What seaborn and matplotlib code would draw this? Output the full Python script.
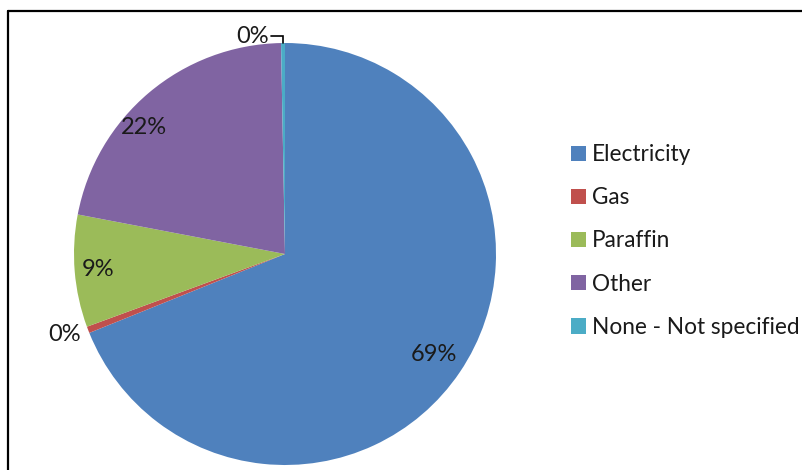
import numpy as np
import matplotlib
matplotlib.use("Agg")
import matplotlib.pyplot as plt
from matplotlib.lines import Line2D
from matplotlib.patches import Patch
import seaborn as sns

sns.set_theme(style="white")
plt.rcParams["font.family"] = ["Lato", "DejaVu Sans"]

# Household energy source shares (percent)
categories = ["Electricity", "Gas", "Paraffin", "Other", "None - Not specified"]
shares = [68.9, 0.5, 8.6, 21.7, 0.3]
labels = ["69%", "0%", "9%", "22%", "0%"]
colors = ["#4F81BD", "#C0504D", "#9BBB59", "#8064A2", "#4BACC6"]

fig = plt.figure(figsize=(8.03, 4.70), dpi=100)
W, H = 803, 470

# outer border of the chart area
for xs, ys in [((8, 8), (0, 459.5)), ((8, 803), (459.5, 459.5))]:
    fig.add_artist(Line2D([x / W for x in xs], [y / H for y in ys],
                          transform=fig.transFigure, color="black", lw=1.6))

cx, cy, r = 285, 254, 211
ax = fig.add_axes([(cx - r) / W, (H - cy - r) / H, 2 * r / W, 2 * r / H])
wedges, _ = ax.pie(shares, colors=colors, startangle=90, counterclock=False,
                   radius=1.0, wedgeprops=dict(linewidth=0))
ax.set_xlim(-1, 1)
ax.set_ylim(-1, 1)
ax.set_aspect("auto")
ax.axis("off")

fs = 17
tc = "#1a1a1a"
mids = [np.deg2rad((w.theta1 + w.theta2) / 2) for w in wedges]

# inside labels for the large slices
for i, dist, shift in [(0, 0.85, 0), (2, 0.89, 0), (3, 0.90, 8)]:
    a = mids[i] + np.deg2rad(shift)
    ax.text(dist * np.cos(a), dist * np.sin(a), labels[i], ha="center",
            va="center", fontsize=fs, color=tc)

# Gas: outside, to the left of its sliver
a = mids[1]
ax.text(1.035 * np.cos(a), 1.035 * np.sin(a) - 0.01, labels[1], ha="right",
        va="center", fontsize=fs, color=tc)

# None: leader line from the top sliver
a = mids[4]
x0, y0 = np.cos(a), np.sin(a)
ax.plot([x0, x0, x0 - 0.055], [y0, y0 + 0.035, y0 + 0.035], color="black",
        lw=1.2, clip_on=False, solid_joinstyle="miter")
ax.text(x0 - 0.065, y0 + 0.03, labels[4], ha="right", va="center",
        fontsize=fs, color=tc, clip_on=False)

handles = [Patch(facecolor=c, edgecolor="none") for c in colors]
fig.legend(handles, categories, loc="center left",
           bbox_to_anchor=(571 / W, 1 - 241 / H), frameon=False,
           fontsize=16.3, handlelength=0.66, handleheight=0.66,
           handletextpad=0.25, labelspacing=0.98, borderaxespad=0,
           borderpad=0, labelcolor=tc)

fig.savefig("out.png", dpi=100)
